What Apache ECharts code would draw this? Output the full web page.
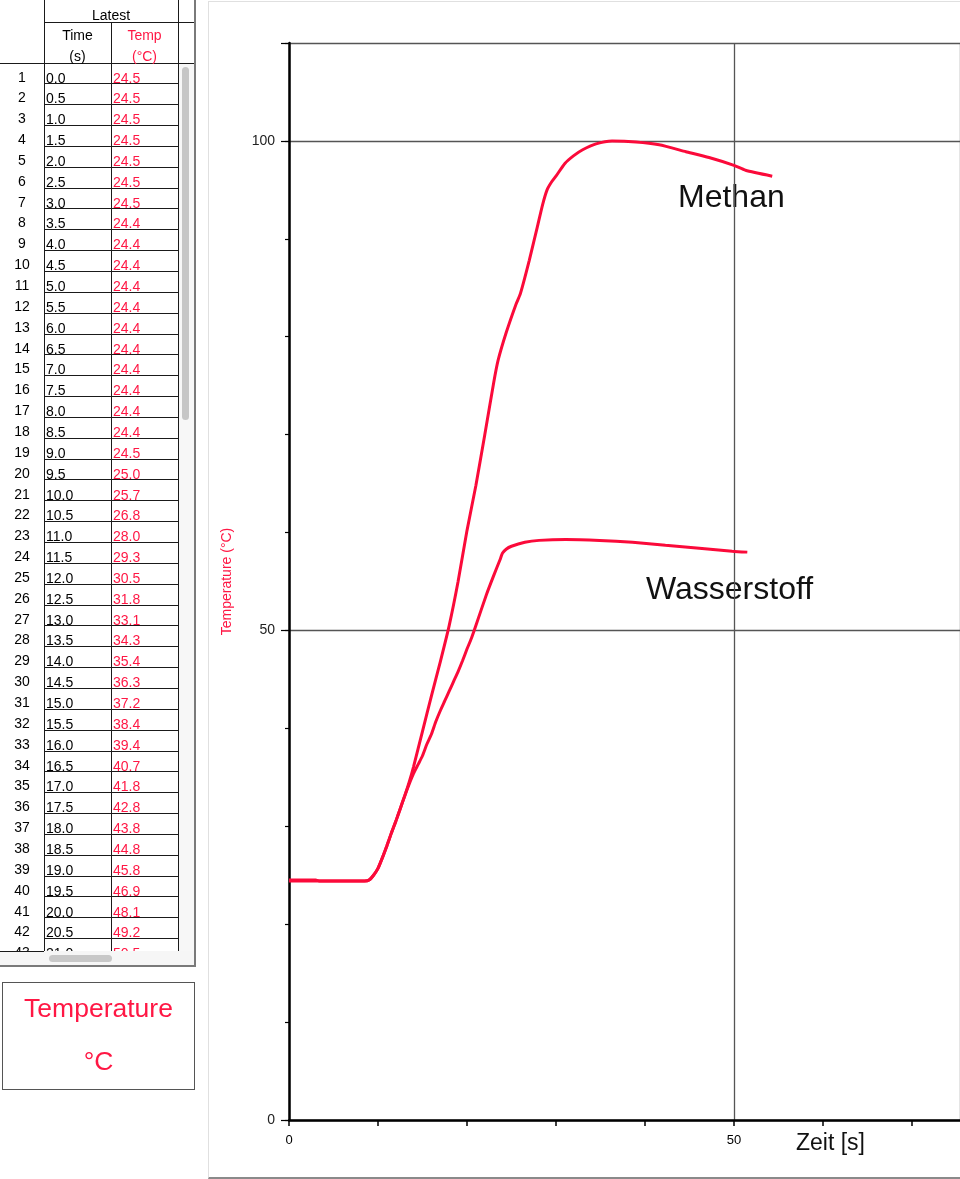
<!DOCTYPE html>
<html>
<head>
<meta charset="utf-8">
<script src="https://cdn.jsdelivr.net/npm/echarts@6/dist/echarts.min.js"></script>
<style>
html,body{margin:0;padding:0;background:#fff;}
body{width:960px;height:1179px;position:relative;overflow:hidden;font-family:"Liberation Sans",Arial,sans-serif;}
#panel{position:absolute;left:208px;top:1px;width:752px;height:1175px;border-left:1px solid #e0e0e0;border-top:1px solid #e0e0e0;border-bottom:2px solid #8a8a8a;box-sizing:content-box;}
#chart{position:absolute;left:0;top:0;width:960px;height:1179px;}
#left{position:absolute;left:0;top:0;width:197px;height:968px;z-index:2;}
.ln{position:absolute;background:#1a1a1a;}
.t{position:absolute;font-size:14px;line-height:16px;white-space:nowrap;color:#000;}
.red{color:#ff1744;}
#rows{position:absolute;left:0;top:63px;width:178px;height:888px;overflow:hidden;}
#tbox{position:absolute;left:2px;top:982px;width:191px;height:106px;border:1.5px solid #555;z-index:2;}
#tbox div{position:absolute;left:0;width:100%;text-align:center;color:#ff1744;font-size:26.5px;line-height:30px;}
</style>
</head>
<body>
<div id="panel"></div>
<div id="chart"></div>
<div id="left">
  <div style="position:absolute;left:178px;top:63px;width:17px;height:888px;background:#f7f7f7;"></div>
  <div style="position:absolute;left:182px;top:67px;width:7px;height:353px;background:#c6c6c6;border-radius:4px;"></div>
  <div style="position:absolute;left:0;top:951px;width:195px;height:15px;background:#f6f6f6;"></div>
  <div style="position:absolute;left:49px;top:955px;width:63px;height:7px;background:#c8c8c8;border-radius:4px;"></div>
  <div id="rows"></div>
  <div class="ln" style="left:44px;top:0;width:1px;height:951px;"></div>
  <div class="ln" style="left:111px;top:22px;width:1px;height:929px;"></div>
  <div class="ln" style="left:178px;top:0;width:1px;height:951px;"></div>
  <div class="ln" style="left:44px;top:22px;width:151px;height:1px;"></div>
  <div class="ln" style="left:0;top:63px;width:195px;height:1px;"></div>
  <div class="ln" style="left:0;top:951px;width:44px;height:1px;"></div>
  <div class="ln" style="left:194px;top:0;width:2px;height:967px;background:#7a7a7a;"></div>
  <div class="ln" style="left:0;top:965px;width:196px;height:2px;background:#7a7a7a;"></div>
  <div class="t" style="left:44px;top:7px;width:134px;text-align:center;">Latest</div>
  <div class="t" style="left:44px;top:27px;width:67px;text-align:center;">Time</div>
  <div class="t" style="left:44px;top:48px;width:67px;text-align:center;">(s)</div>
  <div class="t red" style="left:111px;top:27px;width:67px;text-align:center;">Temp</div>
  <div class="t red" style="left:111px;top:48px;width:67px;text-align:center;">(°C)</div>
</div>
<div id="tbox">
  <div style="top:10px;">Temperature</div>
  <div style="top:63px;">°C</div>
</div>
<script>
// ---- data ----
const tableTime = ['0.0','0.5','1.0','1.5','2.0','2.5','3.0','3.5','4.0','4.5','5.0','5.5','6.0','6.5','7.0','7.5','8.0','8.5','9.0','9.5','10.0','10.5','11.0','11.5','12.0','12.5','13.0','13.5','14.0','14.5','15.0','15.5','16.0','16.5','17.0','17.5','18.0','18.5','19.0','19.5','20.0','20.5','21.0'];
const tableTemp = ['24.5','24.5','24.5','24.5','24.5','24.5','24.5','24.4','24.4','24.4','24.4','24.4','24.4','24.4','24.4','24.4','24.4','24.4','24.5','25.0','25.7','26.8','28.0','29.3','30.5','31.8','33.1','34.3','35.4','36.3','37.2','38.4','39.4','40.7','41.8','42.8','43.8','44.8','45.8','46.9','48.1','49.2','50.5'];

// Wasserstoff after the table rows
const wasserTimeExt = [22.2, 23.0, 23.7, 24.0, 24.4, 25.0, 26.5, 28.1, 31.1, 34.9, 38.6, 42.3, 46.1, 49.8, 51.5];
const wasserTempExt = [53.7, 55.6, 57.2, 57.9, 58.3, 58.6, 59.0, 59.2, 59.3, 59.2, 59.0, 58.7, 58.4, 58.1, 58.0];

// Methan curve
const methanTime = [0, 3, 8.5, 9, 9.5, 10, 10.5, 11, 11.5, 12, 12.5, 13, 13.5, 14, 15, 16, 17, 18, 19, 20, 21, 22, 23, 23.5, 24.4, 25.5, 26, 27, 27.9, 28.5, 29, 29.5, 30, 31, 32, 33, 34.5, 36.3, 39, 41.6, 44.6, 47.2, 50, 51.3, 54.3];
const methanTemp = [24.4, 24.4, 24.4, 24.5, 25.0, 25.7, 26.8, 28.0, 29.3, 30.5, 31.8, 33.1, 34.5, 36.1, 39.7, 43.3, 46.8, 50.5, 55.0, 60.2, 64.8, 70.0, 75.3, 77.6, 80.4, 83.3, 84.4, 87.8, 91.2, 93.5, 95.0, 95.8, 96.4, 97.7, 98.5, 99.1, 99.7, 100.0, 99.9, 99.6, 98.9, 98.3, 97.5, 97.0, 96.4];

const xTickLabels = [0, 50];
const yTickLabels = [0, 50, 100];

// ---- table ----
const rows = document.getElementById('rows');
const PITCH = 20.85;
for (let i = 0; i < tableTime.length; i++) {
  const y0 = i * PITCH;
  const n = document.createElement('div');
  n.className = 't'; n.style.left = '0px'; n.style.width = '44px'; n.style.textAlign = 'center';
  n.style.top = (5.5 + y0) + 'px'; n.textContent = String(i + 1); rows.appendChild(n);
  const a = document.createElement('div');
  a.className = 't'; a.style.left = '46px'; a.style.top = (6.5 + y0) + 'px'; a.textContent = tableTime[i]; rows.appendChild(a);
  const b = document.createElement('div');
  b.className = 't red'; b.style.left = '113px'; b.style.top = (6.5 + y0) + 'px'; b.textContent = tableTemp[i]; rows.appendChild(b);
  const l = document.createElement('div');
  l.className = 'ln'; l.style.left = '44px'; l.style.width = '134px'; l.style.height = '1px';
  l.style.top = (20.3 + y0) + 'px'; rows.appendChild(l);
}

// ---- chart ----
const wasserData = tableTime.map((t, i) => [parseFloat(t), parseFloat(tableTemp[i])])
  .concat(wasserTimeExt.map((t, i) => [t, wasserTempExt[i]]));
const methanData = methanTime.map((t, i) => [t, methanTemp[i]]);

const chart = echarts.init(document.getElementById('chart'), null, {renderer: 'canvas'});
const FONT = '"Liberation Sans", Arial, sans-serif';
const RED = '#fb0a3a';
chart.setOption({
  animation: false,
  grid: {left: 289, top: 43, right: -2, bottom: 59},
  xAxis: [
    {type: 'value', min: 0, max: 75.4, interval: 10,
     axisLine: {lineStyle: {color: '#000', width: 2.5}},
     axisTick: {length: 6, lineStyle: {color: '#000', width: 1.5}},
     axisLabel: {formatter: v => xTickLabels.includes(v) ? String(v) : '', margin: 14, color: '#000', fontSize: 13, fontFamily: FONT, showMaxLabel: false},
     splitLine: {show: false}},
    {type: 'value', min: 0, max: 75.4, interval: 50, position: 'bottom',
     axisLine: {show: false}, axisTick: {show: false}, axisLabel: {show: false},
     splitLine: {show: true, lineStyle: {color: '#555', width: 1.3}}}
  ],
  yAxis: [
    {type: 'value', min: 0, max: 110, interval: 10, position: 'left',
     name: 'Temperature (°C)', nameLocation: 'middle', nameGap: 55, nameRotate: 90,
     nameTextStyle: {color: '#ff1744', fontSize: 14, fontFamily: FONT},
     axisLine: {show: true, lineStyle: {color: '#000', width: 2.5}},
     axisTick: {show: true, length: 4, lineStyle: {color: '#000', width: 1.2}},
     axisLabel: {formatter: v => yTickLabels.includes(v) ? String(v) : '', margin: 14, color: '#222', fontSize: 14, fontFamily: FONT},
     splitLine: {show: false}},
    {type: 'value', min: 0, max: 110, interval: 50, position: 'left',
     axisLine: {show: false},
     axisTick: {show: true, length: 8, lineStyle: {color: '#000', width: 1.2}},
     axisLabel: {show: false},
     splitLine: {show: true, lineStyle: {color: '#555', width: 1.3}}}
  ],
  series: [
    {name: 'Wasserstoff', type: 'line', data: wasserData, showSymbol: false, symbol: 'none',
     smooth: 0.2, lineStyle: {color: RED, width: 3}, z: 5},
    {name: 'Methan', type: 'line', data: methanData, showSymbol: false, symbol: 'none',
     smooth: 0.2, lineStyle: {color: RED, width: 3}, z: 5}
  ],
  graphic: [
    {type: 'text', x: 678, y: 198, style: {text: 'Methan', fontSize: 32, fontFamily: FONT, fill: '#111', verticalAlign: 'middle'}},
    {type: 'text', x: 646, y: 590, style: {text: 'Wasserstoff', fontSize: 32, fontFamily: FONT, fill: '#111', verticalAlign: 'middle'}},
    {type: 'text', x: 796, y: 1144, style: {text: 'Zeit [s]', fontSize: 23, fontFamily: FONT, fill: '#111', verticalAlign: 'middle'}}
  ]
});
</script>
</body>
</html>
